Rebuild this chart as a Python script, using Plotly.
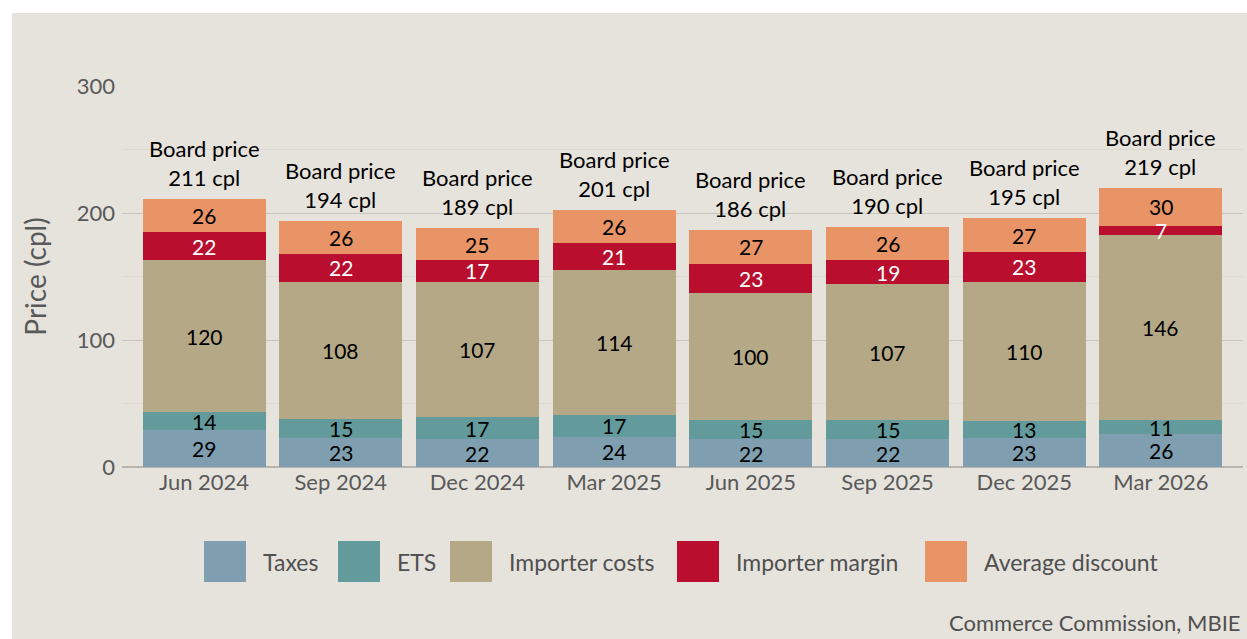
import plotly.graph_objects as go

categories = ["Jun 2024", "Sep 2024", "Dec 2024", "Mar 2025", "Jun 2025", "Sep 2025", "Dec 2025", "Mar 2026"]
taxes = [29, 23, 22, 24, 22, 22, 23, 26]
ets = [14, 15, 17, 17, 15, 15, 13, 11]
importer_costs = [120, 108, 107, 114, 100, 107, 110, 146]
importer_margin = [22, 22, 17, 21, 23, 19, 23, 7]
average_discount = [26, 26, 25, 26, 27, 26, 27, 30]
board_price = [211, 194, 189, 201, 186, 190, 195, 219]
y_ticks = [0, 100, 200, 300]

series = [
    ("Taxes", taxes, "#7f9fb0", "black"),
    ("ETS", ets, "#639b9d", "black"),
    ("Importer costs", importer_costs, "#b5a886", "black"),
    ("Importer margin", importer_margin, "#b90e2e", "white"),
    ("Average discount", average_discount, "#e89467", "black"),
]

FONT = "Lato"
W, H = 1247, 639
L, R, T, B = 122, 1243, 86, 467
Y_MAX = 300


def px_x(p):
    return (p - L) / (R - L)


def px_y(p):
    return (B - p) / (B - T)


fig = go.Figure()
base = [0] * len(categories)
for name, vals, color, tcolor in series:
    fig.add_trace(go.Bar(
        x=categories, y=vals, name=name,
        marker=dict(color=color, line=dict(width=0)),
        showlegend=False, hoverinfo="x+y+name",
    ))
    for cat, b, v in zip(categories, base, vals):
        fig.add_annotation(x=cat, y=b + v / 2, xref="x", yref="y", text=str(v),
                           showarrow=False, yanchor="middle",
                           font=dict(family=FONT, size=21, color=tcolor))
    base = [b + v for b, v in zip(base, vals)]

for cat, tot, bp in zip(categories, base, board_price):
    fig.add_annotation(x=cat, y=tot, xref="x", yref="y", text=f"Board price<br>{bp} cpl",
                       showarrow=False, yanchor="bottom", yshift=6,
                       font=dict(family=FONT, size=22, color="black"))

# background panel
fig.add_shape(type="rect", xref="paper", yref="paper", x0=px_x(12), x1=px_x(1260),
              y0=px_y(13), y1=px_y(660), fillcolor="#e6e3dc", line=dict(width=0), layer="below")

# custom legend
legend_boxes = [204, 338, 450, 677, 925]
for (name, vals, color, tcolor), bx in zip(series, legend_boxes):
    fig.add_shape(type="rect", xref="paper", yref="paper", x0=px_x(bx), x1=px_x(bx + 42),
                  y0=px_y(582), y1=px_y(541), fillcolor=color, line=dict(width=0))
    fig.add_annotation(xref="paper", yref="paper", x=px_x(bx + 57), y=px_y(562), text=name,
                       showarrow=False, xanchor="left", yanchor="middle",
                       font=dict(family=FONT, size=23, color="#505050"))

fig.add_annotation(xref="paper", yref="paper", x=px_x(1243), y=px_y(622), text="Commerce Commission, MBIE",
                   showarrow=False, xanchor="right", yanchor="middle",
                   font=dict(family=FONT, size=22, color="#505050"))

fig.update_layout(
    width=W, height=H,
    margin=dict(l=L, r=W - R, t=T, b=H - B, pad=0),
    paper_bgcolor="white", plot_bgcolor="rgba(0,0,0,0)",
    barmode="stack", bargap=0.1,
    font=dict(family=FONT, color="#595959"),
    xaxis=dict(range=[-0.6, 7.6], showgrid=False, zeroline=False, showline=False,
               tickfont=dict(family=FONT, size=22, color="#595959"), ticks="", fixedrange=True),
    yaxis=dict(range=[0, Y_MAX], tickvals=y_ticks, showgrid=True, gridcolor="#c9c6bf", gridwidth=1,
               zeroline=True, zerolinecolor="#b8b5ae", zerolinewidth=1.5,
               minor=dict(dtick=50, showgrid=True, gridcolor="#dcd9d2", gridwidth=1, ticks=""),
               tickfont=dict(family=FONT, size=22, color="#595959"), ticks="", ticklabelstandoff=6,
               title=dict(text="Price (cpl)", font=dict(family=FONT, size=28, color="#595959"), standoff=21)),
)

fig.write_html("out.html", config={"displayModeBar": False},
               post_script="document.body.style.margin='0';document.body.style.overflow='hidden';")
